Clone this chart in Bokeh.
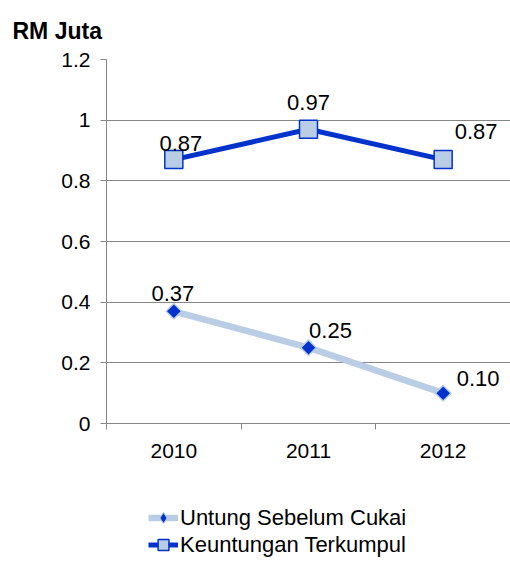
from bokeh.plotting import figure
from bokeh.layouts import column
from bokeh.models import (ColumnDataSource, Range1d, FixedTicker, NumeralTickFormatter,
                          LabelSet, Legend, LegendItem)
from bokeh.core.properties import value
from bokeh.embed import file_html
from bokeh.resources import INLINE
import math

years = ["2010", "2011", "2012"]
untung = [0.37, 0.25, 0.10]
keuntungan = [0.87, 0.97, 0.87]
y_ticks = [0, 0.2, 0.4, 0.6, 0.8, 1.0, 1.2]
series_names = ["Untung Sebelum Cukai", "Keuntungan Terkumpul"]

FONT = "Liberation Sans"
DARK = "#0033cc"
LIGHT = "#b9cde5"
GRID = "#868686"

xs = [i + 0.5 for i in range(len(years))]

src_u = ColumnDataSource(dict(x=xs, y=untung, lab=["%.2f" % v for v in untung],
                              dx=[-1, 22, 35], dy=[18, 17, 15]))
src_k = ColumnDataSource(dict(x=xs, y=keuntungan, lab=["%.2f" % v for v in keuntungan],
                              dx=[7, 0, 33], dy=[16, 27, 28]))

p = figure(width=510, height=470, output_backend="svg", toolbar_location=None,
           x_range=Range1d(0, len(years)), y_range=Range1d(0, 1.2),
           min_border_left=106, min_border_right=0, min_border_top=59, min_border_bottom=47)
p.outline_line_color = None
p.background_fill_color = "white"
p.border_fill_color = "white"

# title
p.title.text = "RM Juta"
p.title.text_font = FONT
p.title.text_font_size = "23px"
p.title.text_font_style = "bold"
p.title.text_color = "black"
p.title.align = "left"
p.title.vertical_align = "middle"
p.title.offset = -94
p.title.standoff = 30

# axes
p.xaxis.ticker = FixedTicker(ticks=xs, minor_ticks=list(range(len(years) + 1)))
p.xaxis.major_label_overrides = {x: y for x, y in zip(xs, years)}
p.xaxis.major_tick_out = 0
p.xaxis.major_tick_in = 0
p.xaxis.minor_tick_out = 6
p.xaxis.minor_tick_in = 0
p.xaxis.minor_tick_line_color = GRID
p.xaxis.axis_line_color = GRID
p.xaxis.major_label_standoff = 14
p.xaxis.major_label_text_font = FONT
p.xaxis.major_label_text_font_size = "21px"
p.xaxis.major_label_text_color = "black"

p.yaxis.ticker = FixedTicker(ticks=y_ticks, minor_ticks=[])
p.yaxis.formatter = NumeralTickFormatter(format="0.[0]")
p.yaxis.major_tick_out = 6
p.yaxis.major_tick_in = 0
p.yaxis.major_tick_line_color = GRID
p.yaxis.axis_line_color = GRID
p.yaxis.major_label_standoff = 10
p.yaxis.major_label_text_font = FONT
p.yaxis.major_label_text_font_size = "21px"
p.yaxis.major_label_text_color = "black"

p.xgrid.grid_line_color = None
p.ygrid.grid_line_color = GRID
p.ygrid.grid_line_width = 1

# series
style_u_line = dict(line_color=LIGHT, line_width=6.5)
style_u_mark = dict(marker="square", angle=math.pi / 4, size=11,
                    fill_color=DARK, line_color=LIGHT, line_width=1.5)
style_k_line = dict(line_color=DARK, line_width=5)
style_k_mark = dict(marker="square", size=18, fill_color=LIGHT, line_color=DARK, line_width=1.5)

p.line("x", "y", source=src_u, **style_u_line)
p.scatter("x", "y", source=src_u, **style_u_mark)
p.line("x", "y", source=src_k, **style_k_line)
p.scatter("x", "y", source=src_k, **style_k_mark)

for src in (src_u, src_k):
    p.add_layout(LabelSet(x="x", y="y", text="lab", source=src, x_offset="dx", y_offset="dy",
                          text_align="center", text_baseline="middle",
                          text_font=value(FONT), text_font_size="22px", text_color="black"))

# legend panel (separate figure below the chart; its glyphs hold no visible points)
lg = figure(width=510, height=93, output_backend="svg", toolbar_location=None,
            x_range=Range1d(0, 1), y_range=Range1d(0, 1), x_axis_type=None, y_axis_type=None,
            min_border_left=0, min_border_right=0, min_border_top=0, min_border_bottom=0)
lg.outline_line_color = None
lg.grid.visible = False
nan = float("nan")
key_u = ColumnDataSource(dict(x=[nan], y=[nan]))
key_k = ColumnDataSource(dict(x=[nan], y=[nan]))
lu = lg.line("x", "y", source=key_u, **style_u_line)
mu = lg.scatter("x", "y", source=key_u, marker="diamond", size=13,
                fill_color=DARK, line_color=LIGHT, line_width=1)
lk = lg.line("x", "y", source=key_k, **style_k_line)
mk = lg.scatter("x", "y", source=key_k, marker="square", size=15,
                fill_color=LIGHT, line_color=DARK, line_width=1.5)

legend = Legend(items=[LegendItem(label=series_names[0], renderers=[lu, mu]),
                       LegendItem(label=series_names[1], renderers=[lk, mk])],
                location=(42, 5), orientation="vertical",
                glyph_width=30, glyph_height=27, label_standoff=2, spacing=0,
                padding=0, margin=0, border_line_color=None, background_fill_alpha=0,
                label_text_font=FONT, label_text_font_size="22px", label_text_color="black")
lg.add_layout(legend, "center")

layout = column(p, lg, spacing=0)
open("out.html", "w").write(file_html(layout, INLINE))
